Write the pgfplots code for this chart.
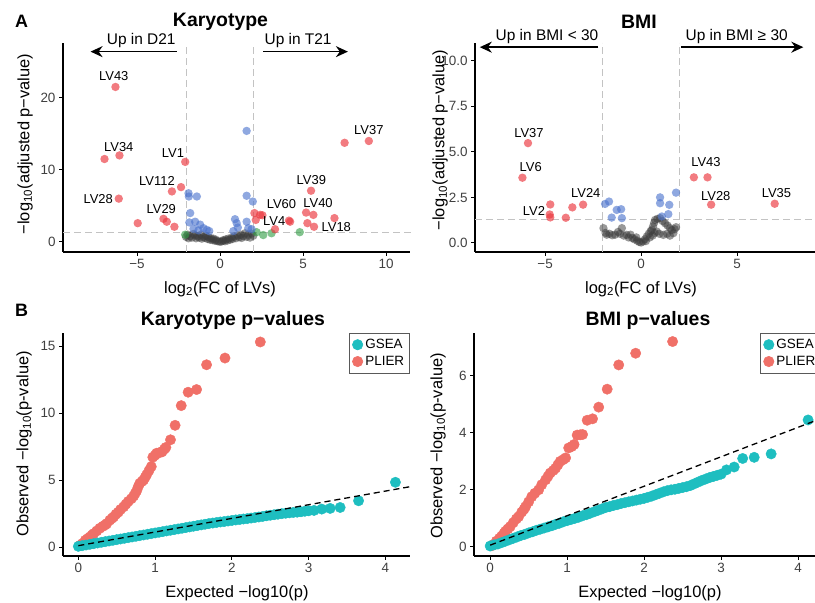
\documentclass[border=0pt]{standalone}
\usepackage{pgfplots}
\pgfplotsset{compat=1.18}
\usepackage{fontspec}
\setmainfont{Liberation Sans}
\usetikzlibrary{arrows.meta}

\definecolor{vred}{RGB}{235,55,62}
\definecolor{vblue}{RGB}{75,115,205}
\definecolor{vgreen}{RGB}{45,155,65}
\definecolor{vgray}{RGB}{60,60,60}
\definecolor{qteal}{RGB}{30,190,192}
\definecolor{qsalmon}{RGB}{240,112,104}
\definecolor{dashgray}{RGB}{195,195,195}

\newcommand\lvfont{\fontsize{13}{13}\selectfont}
\newcommand\upfont{\fontsize{15.5}{16}\selectfont}
\newcommand\labfont{\fontsize{16.5}{17}\selectfont}
\newcommand\titfont{\fontsize{19.5}{20}\selectfont\bfseries}

\pgfplotsset{
  base/.style={scale only axis, axis x line=bottom, axis y line=left,
    axis line style={-, line width=1.1bp, black}, tick align=outside,
    major tick length=4bp, tick style={black, line width=0.9bp},
    ticklabel style={font=\fontsize{13.5}{14}\selectfont, text=black!75},
    /pgf/number format/assume math mode=true, clip=false, clip marker paths=true},
  vol/.style={only marks, mark=*, mark size=4.2bp, mark options={draw=none, draw opacity=0, fill opacity=#1}},
  vol/.default=0.66,
  qq/.style={only marks, mark=*, mark size=5.2bp, mark options={draw=none}},
  dline/.style={dashgray, dash pattern=on 7bp off 4bp, line width=1bp, forget plot},
  qleg/.style={legend style={at={#1}, anchor=north east, draw=black!65, line width=0.6bp,
    font=\fontsize{13.5}{15}\selectfont, inner xsep=3bp, inner ysep=4bp, row sep=2bp,
    nodes={inner xsep=2.5bp}}, legend cell align=left, reverse legend},
}

\begin{document}
\begin{tikzpicture}[x=1bp,y=1bp]
\useasboundingbox (0,0) rectangle (815,603);
\clip (0,0) rectangle (815,603);

% ---------------- Volcano: Karyotype ----------------
\begin{axis}[base, at={(63bp,560bp)}, anchor=north west, width=347bp, height=209bp,
  xmin=-9.46, xmax=11.44, ymin=-1.4, ymax=27.6,
  xtick={-5,0,5,10}, xticklabels={−5,0,5,10}, ytick={0,10,20}]
\addplot[dline] coordinates {(-2,-1.4) (-2,27.6)};
\addplot[dline] coordinates {(2,-1.4) (2,27.6)};
\addplot[dline] coordinates {(-9.46,1.3) (11.7,1.3)};
\addplot[vgray, vol=0.52] coordinates {(-2.05,0.7) (-1.95,1.0) (-1.9,0.5) (-1.8,0.8) (-1.7,0.6) (-1.6,1.1) (-1.5,0.9) (-1.45,0.5) (-1.35,0.75) (-1.25,0.6) (-1.15,1.0) (-1.1,0.45) (-1.0,0.7) (-0.9,0.55) (-0.85,0.85) (-0.75,0.4) (-0.7,0.65) (-0.6,0.3) (-0.55,0.5) (-0.45,0.25) (-0.4,0.45) (-0.3,0.15) (-0.25,0.3) (-0.15,0.1) (-0.05,0.05) (0.05,0.02) (0.15,0.12) (0.2,0.25) (0.3,0.1) (0.35,0.35) (0.45,0.2) (0.5,0.45) (0.6,0.3) (0.7,0.6) (0.75,0.4) (0.85,0.75) (0.95,0.5) (1.05,0.9) (1.15,0.65) (1.25,1.0) (1.3,0.55) (1.4,0.8) (1.5,1.2) (1.6,0.7) (1.7,1.0) (1.8,0.6) (1.9,1.15) (2.0,0.85)};
\addplot[vgreen, vol=0.6] coordinates {(-2.1,1.0) (2.2,1.35) (2.6,0.95) (3.1,1.2) (4.8,1.35)};
\addplot[vblue, vol=0.62] coordinates {(1.6,15.4) (-1.9,6.75) (-1.88,6.3) (-1.4,6.3) (1.6,6.4) (1.97,5.6) (-1.8,4.0) (-1.85,2.7) (-1.5,2.8) (-1.2,2.4) (-1.0,1.9) (-0.8,1.67) (-1.6,1.8) (-1.3,1.6) (0.9,3.15) (1.0,2.6) (1.07,2.0) (1.6,2.8) (1.7,1.9) (1.9,1.76) (-0.65,1.5) (0.8,1.5)};
\addplot[vred, vol] coordinates {(-6.3,21.5) (-6.96,11.5) (-6.06,12.0) (-2.1,11.1) (-2.35,7.6) (-2.9,7.0) (-6.1,6.0) (-4.96,2.6) (-3.41,3.2) (-3.21,2.8) (-2.75,2.1) (8.96,14.0) (7.5,13.75) (5.48,7.1) (5.18,4.07) (5.62,3.75) (5.26,2.6) (5.66,2.1) (6.89,3.3) (2.07,4.0) (2.41,3.75) (2.55,3.7) (2.15,3.05) (3.31,1.76) (4.22,2.8) (4.15,2.95)};
\node[font=\lvfont] at (axis cs:-6.4,23.0) {LV43};
\node[font=\lvfont] at (axis cs:-6.1,13.1) {LV34};
\node[font=\lvfont] at (axis cs:-2.84,12.3) {LV1};
\node[font=\lvfont] at (axis cs:-3.8,8.5) {LV112};
\node[font=\lvfont] at (axis cs:-7.34,5.9) {LV28};
\node[font=\lvfont] at (axis cs:-3.54,4.6) {LV29};
\node[font=\lvfont] at (axis cs:8.96,15.5) {LV37};
\node[font=\lvfont] at (axis cs:5.5,8.6) {LV39};
\node[font=\lvfont] at (axis cs:3.7,5.3) {LV60};
\node[font=\lvfont] at (axis cs:5.9,5.4) {LV40};
\node[font=\lvfont] at (axis cs:3.26,2.9) {LV4};
\node[font=\lvfont] at (axis cs:7.0,2.1) {LV18};
\draw[-{Stealth[length=12bp,width=11bp]}, line width=1.5bp] (axis cs:-2.6,26.4) -- (axis cs:-7.8,26.4);
\draw[-{Stealth[length=12bp,width=11bp]}, line width=1.5bp] (axis cs:2.6,26.4) -- (axis cs:7.7,26.4);
\node[font=\upfont] at (axis cs:-4.75,27.9) {Up in D21};
\node[font=\upfont] at (axis cs:4.7,27.9) {Up in T21};
\end{axis}

% ---------------- Volcano: BMI ----------------
\begin{axis}[base, at={(475bp,560bp)}, anchor=north west, width=340bp, height=209bp,
  xmin=-8.65, xmax=9.06, ymin=-0.5, ymax=10.98,
  xtick={-5,0,5}, xticklabels={−5,0,5}, ytick={0,2.5,5,7.5,10}, yticklabels={0.0,2.5,5.0,7.5,10.0}]
\addplot[dline] coordinates {(-2,-0.5) (-2,10.98)};
\addplot[dline] coordinates {(2,-0.5) (2,10.98)};
\addplot[dline] coordinates {(-8.65,1.3) (9.06,1.3)};
\addplot[vgray, vol=0.52] coordinates {(-1.96,0.81) (-1.85,0.55) (-1.79,0.45) (-1.65,0.5) (-1.5,0.42) (-1.35,0.45) (-1.2,0.6) (-1.0,0.81) (-1.1,0.5) (-0.9,0.4) (-0.75,0.44) (-0.65,0.3) (-0.55,0.45) (-0.45,0.26) (-0.35,0.2) (-0.25,0.3) (-0.2,0.12) (-0.1,0.05) (0,0.02) (0.1,0.08) (0.2,0.2) (0.25,0.1) (0.3,0.35) (0.4,0.5) (0.45,0.3) (0.5,0.65) (0.56,0.71) (0.62,0.9) (0.68,1.1) (0.73,1.26) (0.85,1.32) (0.99,1.36) (1.12,1.2) (1.25,1.08) (1.38,0.95) (1.51,0.81) (1.6,0.7) (1.68,0.53) (1.82,0.86) (1.75,0.75) (1.16,0.44) (0.95,0.5) (0.82,0.62) (0.7,0.55) (0.6,0.4) (1.35,0.5) (1.5,0.4)};
\addplot[vblue, vol=0.62] coordinates {(-1.875,2.14) (-1.67,2.27) (-1.27,1.81) (-1.04,1.85) (-1.53,1.39) (-1.0,1.36) (0.99,2.5) (0.99,2.18) (1.47,2.09) (1.82,2.76) (1.42,1.58) (1.08,1.45)};
\addplot[vred, vol] coordinates {(-5.89,5.48) (-6.18,3.58) (-4.73,2.11) (-4.76,1.56) (-4.73,1.40) (-3.92,1.38) (-3.58,1.95) (-3.02,2.10) (2.75,3.6) (3.46,3.6) (3.65,2.1) (6.96,2.15)};
\node[font=\lvfont] at (axis cs:-5.84,6.03) {LV37};
\node[font=\lvfont] at (axis cs:-5.75,4.14) {LV6};
\node[font=\lvfont] at (axis cs:-2.88,2.72) {LV24};
\node[font=\lvfont] at (axis cs:-5.58,1.75) {LV2};
\node[font=\lvfont] at (axis cs:3.38,4.43) {LV43};
\node[font=\lvfont] at (axis cs:3.89,2.59) {LV28};
\node[font=\lvfont] at (axis cs:7.05,2.72) {LV35};
\draw[-{Stealth[length=12bp,width=11bp]}, line width=1.5bp] (axis cs:-2.22,10.75) -- (axis cs:-8.4,10.75);
\draw[-{Stealth[length=12bp,width=11bp]}, line width=1.5bp] (axis cs:2.08,10.75) -- (axis cs:8.45,10.75);
\node[font=\upfont] at (axis cs:-4.9,11.32) {Up in BMI < 30};
\node[font=\upfont] at (axis cs:4.98,11.32) {Up in BMI ≥ 30};
\end{axis}

% ---------------- QQ: Karyotype ----------------
\begin{axis}[base, at={(63bp,270bp)}, anchor=north west, width=347bp, height=223bp,
  xmin=-0.2, xmax=4.32, ymin=-0.67, ymax=15.97,
  xtick={0,1,2,3,4}, ytick={0,5,10,15}, qleg={(1,1)}]
\addplot[qq, qsalmon] coordinates {(0.02,0.12) (0.05,0.25) (0.09,0.5) (0.12,0.62) (0.15,0.75) (0.18,0.9) (0.2,1.0) (0.24,1.2) (0.28,1.4) (0.32,1.55) (0.35,1.65) (0.37,1.75) (0.41,2.0) (0.44,2.15) (0.46,2.25) (0.49,2.45) (0.52,2.6) (0.55,2.8) (0.59,3.0) (0.62,3.2) (0.65,3.4) (0.69,3.6) (0.72,3.8) (0.74,4.0) (0.76,4.2) (0.78,4.5) (0.8,4.75) (0.83,4.9) (0.85,5.0) (0.87,5.2) (0.89,5.4) (0.92,5.7) (0.95,6.0) (0.97,6.7) (1.0,6.85) (1.02,7.0) (1.06,7.05) (1.09,7.1) (1.12,7.3) (1.14,7.43) (1.2,8.0) (1.26,9.08) (1.34,10.55) (1.43,11.55) (1.54,11.75) (1.67,13.6) (1.91,14.1) (2.37,15.3)};
\addlegendentry{PLIER}
\addplot[qq, qteal] coordinates {(0,0.05) (0.05,0.1) (0.1,0.15) (0.15,0.2) (0.2,0.25) (0.25,0.3) (0.3,0.35) (0.35,0.4) (0.4,0.45) (0.45,0.5) (0.5,0.55) (0.55,0.6) (0.6,0.65) (0.65,0.7) (0.7,0.75) (0.75,0.8) (0.8,0.85) (0.85,0.9) (0.9,0.95) (0.95,1.0) (1.0,1.05) (1.05,1.1) (1.1,1.15) (1.15,1.2) (1.2,1.25) (1.25,1.3) (1.3,1.35) (1.35,1.4) (1.4,1.45) (1.45,1.5) (1.5,1.55) (1.55,1.6) (1.6,1.65) (1.65,1.7) (1.7,1.75) (1.75,1.79) (1.8,1.83) (1.85,1.87) (1.9,1.9) (1.95,1.94) (2.0,1.98) (2.05,2.02) (2.1,2.05) (2.15,2.09) (2.2,2.12) (2.25,2.16) (2.3,2.2) (2.35,2.24) (2.4,2.28) (2.45,2.33) (2.5,2.37) (2.55,2.41) (2.6,2.45) (2.65,2.49) (2.7,2.52) (2.75,2.55) (2.8,2.58) (2.85,2.6) (2.9,2.63) (2.95,2.67) (3.0,2.7) (3.07,2.73) (3.17,2.83) (3.28,2.88) (3.41,2.95) (3.65,3.45) (4.13,4.83)};
\addlegendentry{GSEA}
\addplot[black, dash pattern=on 6bp off 4bp, line width=1.3bp, forget plot] coordinates {(0,0.1) (4.32,4.5)};
\end{axis}

% ---------------- QQ: BMI ----------------
\begin{axis}[base, at={(474bp,270bp)}, anchor=north west, width=341bp, height=223bp,
  xmin=-0.21, xmax=4.22, ymin=-0.32, ymax=7.5,
  xtick={0,1,2,3,4}, ytick={0,2,4,6}, qleg={(1.018,1)}]
\addplot[qq, qsalmon] coordinates {(0.02,0.04) (0.04,0.08) (0.08,0.2) (0.12,0.3) (0.15,0.38) (0.18,0.48) (0.2,0.55) (0.23,0.63) (0.26,0.71) (0.3,0.85) (0.34,0.98) (0.37,1.06) (0.41,1.22) (0.44,1.32) (0.46,1.41) (0.5,1.58) (0.54,1.76) (0.58,1.88) (0.63,2.0) (0.67,2.18) (0.72,2.35) (0.75,2.47) (0.78,2.59) (0.82,2.68) (0.85,2.76) (0.88,2.88) (0.91,3.0) (0.95,3.06) (0.98,3.12) (1.02,3.47) (1.06,3.52) (1.09,3.59) (1.13,3.92) (1.17,3.93) (1.2,3.94) (1.26,4.44) (1.33,4.49) (1.41,4.9) (1.52,5.53) (1.67,6.38) (1.89,6.79) (2.37,7.2)};
\addlegendentry{PLIER}
\addplot[qq, qteal] coordinates {(0,0.03) (0.05,0.07) (0.1,0.1) (0.15,0.15) (0.2,0.2) (0.25,0.25) (0.3,0.3) (0.35,0.35) (0.4,0.4) (0.45,0.44) (0.5,0.49) (0.55,0.53) (0.6,0.58) (0.65,0.62) (0.7,0.66) (0.75,0.7) (0.8,0.74) (0.85,0.79) (0.9,0.83) (0.95,0.88) (1.0,0.92) (1.05,0.96) (1.1,1.0) (1.15,1.04) (1.2,1.09) (1.25,1.13) (1.3,1.18) (1.35,1.23) (1.4,1.28) (1.45,1.33) (1.5,1.38) (1.55,1.41) (1.6,1.45) (1.65,1.48) (1.7,1.52) (1.75,1.55) (1.8,1.58) (1.85,1.61) (1.9,1.64) (1.95,1.67) (2.0,1.7) (2.05,1.74) (2.1,1.78) (2.15,1.83) (2.2,1.88) (2.25,1.93) (2.3,1.97) (2.35,2.0) (2.4,2.02) (2.45,2.05) (2.5,2.08) (2.55,2.11) (2.6,2.15) (2.65,2.21) (2.7,2.27) (2.75,2.33) (2.8,2.38) (2.85,2.43) (2.9,2.47) (2.95,2.51) (3.0,2.55) (3.07,2.7) (3.17,2.8) (3.28,3.1) (3.43,3.14) (3.65,3.26) (4.13,4.45)};
\addlegendentry{GSEA}
\addplot[black, dash pattern=on 6bp off 4bp, line width=1.3bp, forget plot] coordinates {(0,0.06) (4.22,4.42)};
\end{axis}

% ---------------- Text: panels, titles, axis labels ----------------
\node[font=\fontsize{18}{18}\selectfont\bfseries] at (21.7,581.3) {A};
\node[font=\fontsize{18}{18}\selectfont\bfseries] at (21.7,293) {B};
\node[font=\titfont] at (220.5,581.3) {Karyotype};
\node[font=\titfont] at (639,581) {BMI};
\node[font=\titfont] at (233,283) {Karyotype p−values};
\node[font=\titfont] at (648,283) {BMI p−values};

\node[font=\labfont, anchor=base] at (220,309.7) {log\textsubscript{2}(FC of LVs)};
\node[font=\labfont, anchor=base] at (641,309.7) {log\textsubscript{2}(FC of LVs)};
\node[font=\labfont, anchor=base] at (237,5.7) {Expected −log10(p)};
\node[font=\labfont, anchor=base] at (650,5.7) {Expected −log10(p)};

\node[font=\labfont, rotate=90] at (25,459) {−log\textsubscript{10}(adjusted p−value)};
\node[font=\labfont, rotate=90] at (440,463) {−log\textsubscript{10}(adjusted p−value)};
\node[font=\labfont, rotate=90] at (24,159) {Observed −log\textsubscript{10}(p-value)};
\node[font=\labfont, rotate=90] at (438,157) {Observed −log\textsubscript{10}(p-value)};
\end{tikzpicture}
\end{document}
